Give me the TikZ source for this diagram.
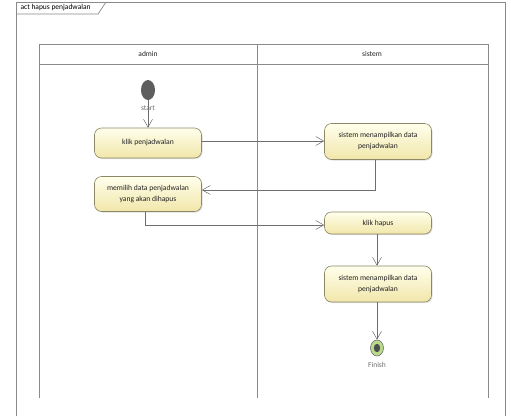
\documentclass[tikz,border=0pt]{standalone}
\usepackage{fontspec}
\setmainfont{Carlito}
\usetikzlibrary{arrows.meta,shadows,shapes.geometric}
\definecolor{lanegray}{HTML}{8A8A8A}
\definecolor{flowgray}{HTML}{6E6E6E}
\definecolor{actborder}{HTML}{8C8866}
\definecolor{acttop}{HTML}{FFFFEC}
\definecolor{actbot}{HTML}{F1E6AA}
\definecolor{txt}{HTML}{222222}
\definecolor{finishgreen}{HTML}{B9DA8A}
\tikzset{
  x=1pt, y=-1pt,
  action/.style={draw=actborder, line width=0.6pt, rounded corners=7pt,
    top color=acttop, bottom color=actbot, minimum width=107pt,
    align=center, font=\fontsize{7.6}{11}\selectfont, text=txt,
    drop shadow={shadow xshift=1pt, shadow yshift=-1pt, opacity=0.25}},
  flow/.style={draw=flowgray, line width=0.6pt,
    -{Straight Barb[length=8pt,width=9pt,line width=0.5pt]}},
  lane/.style={draw=lanegray, line width=0.9pt},
  lbl/.style={font=\fontsize{7.5}{9}\selectfont, text=txt},
}
\begin{document}
\begin{tikzpicture}
\useasboundingbox (0,0) rectangle (511,416);
\fill[white] (0,0) rectangle (511,416);

% outer frame with its name tab
\draw[lane, line width=0.7pt] (16,416) -- (16,2) -- (505,2) -- (505,416);
\draw[lane, line width=0.7pt] (16,14) -- (98,14) -- (106,2);
\node[lbl, anchor=west, text=black] (frametitle) at (17,8) {act hapus penjadwalan};

% swimlanes
\draw[lane] (39,398) -- (39,44) -- (488,44) -- (488,398);
\draw[lane] (39,64) -- (488,64);
\draw[lane] (257,44) -- (257,398);
\node[lbl] (laneadmin) at (148,54) {admin};
\node[lbl] (lanesistem) at (372,54) {sistem};

% initial node
\fill[flowgray!85!black] (148,90) ellipse (7 and 10);
\coordinate (start) at (148,100);
\node[lbl, text=flowgray] (startlbl) at (148,108) {start};

% actions
\node[action, minimum height=30pt] (klik) at (148,143) {klik penjadwalan};
\node[action, minimum height=36pt] (sis1) at (378,141.5) {sistem menampilkan data\\penjadwalan};
\node[action, minimum height=35pt] (pilih) at (148,194) {memilih data penjadwalan\\yang akan dihapus};
\node[action, minimum height=22pt] (hapus) at (378,223) {klik hapus};
\node[action, minimum height=36pt] (sis2) at (378,284) {sistem menampilkan data\\penjadwalan};

% final node
\node[draw=flowgray, fill=finishgreen, ellipse, minimum width=13pt, minimum height=16pt,
      inner sep=0pt, line width=0.6pt] (finish) at (377,348) {};
\fill[flowgray!70!black] (finish.center) ellipse (3.2 and 4.2);
\node[lbl, text=flowgray] (finishlbl) at (377,365) {Finish};

% control flows
\draw[flow] (start) -- (klik.north);
\draw[flow] (klik.east |- 0,141) -- (sis1.west |- 0,141);
\draw[flow] (sis1.south -| 375,0) -- (375,190) -- (pilih.east |- 0,190);
\draw[flow] (pilih.south -| 145,0) -- (145,225) -- (hapus.west |- 0,225);
\draw[flow] (hapus.south -| 377,0) -- (sis2.north -| 377,0);
\draw[flow] (sis2.south -| 377,0) -- (finish.north);
\end{tikzpicture}
\end{document}
